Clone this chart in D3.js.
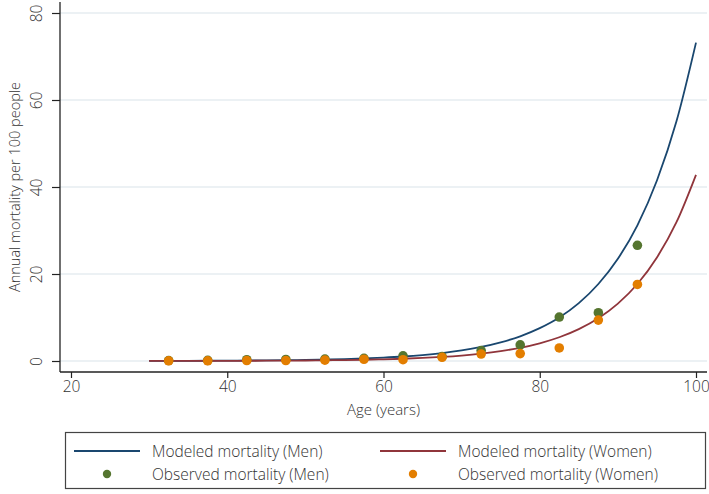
<!DOCTYPE html>
<html><head><meta charset="utf-8">
<script src="https://cdn.jsdelivr.net/npm/d3@7"></script>
<style>
html,body{margin:0;padding:0;background:#fff;}
svg text{font-family:"Open Sans","Noto Sans",sans-serif;fill:#333;font-weight:300;}
</style></head>
<body><svg id="c" width="709" height="494"></svg>
<script>
// Modeled curves
const curveAges = [30,32.5,35,37.5,40,42.5,45,47.5,50,52.5,55,57.5,60,62.5,65,67.5,70,72.5,75,77.5,80,82.5,85,87.5,90,92.5,95,97.5,100];
const modeledMen = [0.026,0.034,0.045,0.06,0.08,0.11,0.14,0.19,0.25,0.33,0.44,0.59,0.78,1.03,1.37,1.82,2.42,3.22,4.28,5.68,7.55,10.0,13.3,17.7,23.5,31.2,41.5,55.1,73.2];
const modeledWomen = [0.011,0.015,0.02,0.027,0.037,0.049,0.066,0.089,0.12,0.16,0.215,0.29,0.39,0.52,0.70,0.935,1.25,1.68,2.26,3.03,4.07,5.46,7.33,9.83,13.2,17.7,23.8,31.9,42.8];
// Observed points
const obsAges = [32.5,37.5,42.5,47.5,52.5,57.5,62.5,67.5,72.5,77.5,82.5,87.5,92.5];
const observedMen = [0.1,0.15,0.3,0.35,0.45,0.6,1.2,1.0,2.4,3.7,10.1,11.1,26.6];
const observedWomen = [0.05,0.05,0.1,0.1,0.2,0.4,0.3,0.85,1.6,1.7,3.0,9.4,17.6];
const xTicks = [20,40,60,80,100];
const yTicks = [0,20,40,60,80];
const legendLabels = ["Modeled mortality (Men)","Modeled mortality (Women)","Observed mortality (Men)","Observed mortality (Women)"];
const colors = {men:"#1a476f", women:"#90353b", obsMen:"#55752f", obsWomen:"#e37e00"};

const svg = d3.select("#c");
const L=60, R=707, T=2, B=372;
const x = d3.scaleLinear().domain([20,100]).range([71,696]);
const y = d3.scaleLinear().domain([0,80]).range([361,13]);

// gridlines
svg.append("g").selectAll("line").data(yTicks).join("line")
  .attr("x1",L).attr("x2",R).attr("y1",d=>y(d)).attr("y2",d=>y(d))
  .attr("stroke","#e6edf1").attr("stroke-width",1.5);

// y axis
const ya = svg.append("g").attr("transform",`translate(${L},0)`)
  .call(d3.axisLeft(y).tickValues(yTicks).tickSize(8).tickPadding(4));
ya.select(".domain").attr("d",`M0,${T}V${B}`).attr("stroke","#222").attr("stroke-width",1.3);
ya.selectAll(".tick line").attr("stroke","#222").attr("stroke-width",1.2);
ya.selectAll(".tick text").attr("font-size",15.5).attr("x",null).attr("dy",null)
  .attr("text-anchor","middle").attr("transform","translate(-24,0) rotate(-90)")
  .attr("dominant-baseline","central");

// x axis
const xa = svg.append("g").attr("transform",`translate(0,${B})`)
  .call(d3.axisBottom(x).tickValues(xTicks).tickSize(6).tickPadding(3));
xa.select(".domain").attr("d",`M${L},0H${R}`).attr("stroke","#222").attr("stroke-width",1.3);
xa.selectAll(".tick line").attr("stroke","#222").attr("stroke-width",1.2);
xa.selectAll(".tick text").attr("font-size",15.5);

// axis titles
svg.append("text").attr("x",(L+R)/2).attr("y",415).attr("text-anchor","middle").attr("font-size",15).text("Age (years)");
svg.append("text").attr("transform",`translate(14,${(T+B)/2}) rotate(-90)`).attr("text-anchor","middle")
  .attr("dominant-baseline","central").attr("font-size",14.5).text("Annual mortality per 100 people");

// lines
const line = vals => d3.line().x((d,i)=>x(curveAges[i])).y(d=>y(d)).curve(d3.curveMonotoneX)(vals);
svg.append("path").attr("d",line(modeledMen)).attr("fill","none").attr("stroke",colors.men).attr("stroke-width",1.8);
svg.append("path").attr("d",line(modeledWomen)).attr("fill","none").attr("stroke",colors.women).attr("stroke-width",1.8);

// points
svg.append("g").selectAll("circle").data(observedMen).join("circle")
  .attr("cx",(d,i)=>x(obsAges[i])).attr("cy",d=>y(d)).attr("r",4.8).attr("fill",colors.obsMen);
svg.append("g").selectAll("circle").data(observedWomen).join("circle")
  .attr("cx",(d,i)=>x(obsAges[i])).attr("cy",d=>y(d)).attr("r",4.8).attr("fill",colors.obsWomen);

// legend
const lg = svg.append("g");
lg.append("rect").attr("x",65.5).attr("y",432.5).attr("width",640).attr("height",56)
  .attr("fill","#fff").attr("stroke","#444").attr("stroke-width",1.2);
const cols=[74,380], rows=[451,474], sw=66, tx=12;
const items=[
  {c:0,r:0,type:"line",color:colors.men,label:legendLabels[0]},
  {c:1,r:0,type:"line",color:colors.women,label:legendLabels[1]},
  {c:0,r:1,type:"dot",color:colors.obsMen,label:legendLabels[2]},
  {c:1,r:1,type:"dot",color:colors.obsWomen,label:legendLabels[3]}];
items.forEach(it=>{
  const x0=cols[it.c], yy=rows[it.r];
  if(it.type==="line") lg.append("line").attr("x1",x0).attr("x2",x0+sw).attr("y1",yy).attr("y2",yy).attr("stroke",it.color).attr("stroke-width",1.8);
  else lg.append("circle").attr("cx",x0+sw/2).attr("cy",yy).attr("r",4.2).attr("fill",it.color);
  lg.append("text").attr("x",x0+sw+tx).attr("y",yy).attr("dominant-baseline","central").attr("font-size",15.5).text(it.label);
});
</script></body></html>
